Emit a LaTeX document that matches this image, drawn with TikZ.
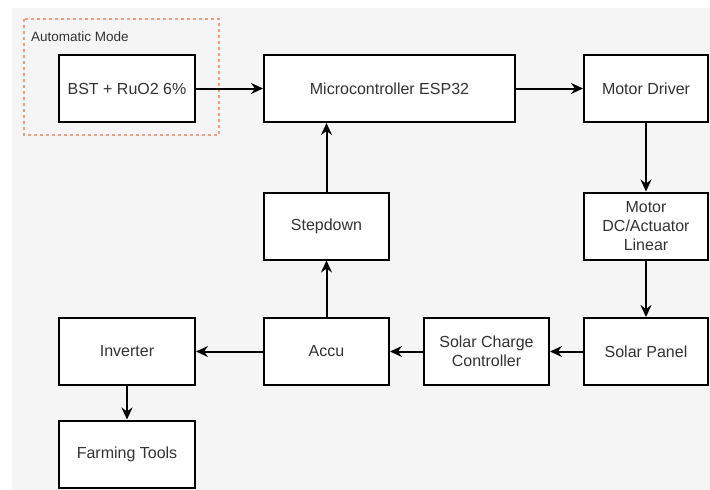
\documentclass[tikz,border=0pt]{standalone}
\usepackage{fontspec}
\setmainfont{Liberation Sans}
\usetikzlibrary{arrows.meta}
\definecolor{bggray}{HTML}{F5F5F5}
\definecolor{txtgray}{HTML}{333333}
\definecolor{dashorange}{RGB}{240,160,125}
\tikzset{
  blockbox/.style={draw=black, fill=white, line width=2pt, minimum height=67pt,
    inner sep=2pt, align=center, text=txtgray,
    font=\fontsize{16}{19}\selectfont},
  flowarrow/.style={line width=2pt, -{Stealth[length=12pt,width=11pt,inset=4pt]}},
}
\begin{document}
\begin{tikzpicture}[x=1pt,y=-1pt]
\useasboundingbox (0,0) rectangle (710,490);
\fill[bggray] (12,8) rectangle (710,490);
% dashed group
\draw[dashorange, line width=1.3pt, dash pattern=on 3pt off 3pt] (24,19) rectangle (219,135);
\node[anchor=west, text=txtgray, font=\fontsize{13.5}{16}\selectfont, inner sep=0pt] (autolbl) at (31,37) {Automatic Mode};
% boxes
\node[blockbox, minimum width=136pt] (bst) at (127,88.5) {BST + RuO2 6\%};
\node[blockbox, minimum width=251pt] (mcu) at (389.5,88.5) {Microcontroller ESP32};
\node[blockbox, minimum width=124pt] (md) at (646,88.5) {Motor Driver};
\node[blockbox, minimum width=124pt] (mdc) at (646,226) {Motor\\DC/Actuator\\Linear};
\node[blockbox, minimum width=124pt] (sp) at (646,351.5) {Solar Panel};
\node[blockbox, minimum width=125pt] (scc) at (486.5,351.5) {Solar Charge\\Controller};
\node[blockbox, minimum width=125pt] (accu) at (326.5,351.5) {Accu};
\node[blockbox, minimum width=136pt] (inv) at (127,351.5) {Inverter};
\node[blockbox, minimum width=136pt] (ft) at (127,454) {Farming Tools};
\node[blockbox, minimum width=125pt] (sd) at (326.5,226) {Stepdown};
% connectors
\draw[flowarrow] (bst) -- (mcu);
\draw[flowarrow] (mcu) -- (md);
\draw[flowarrow] (md) -- (mdc);
\draw[flowarrow] (mdc) -- (sp);
\draw[flowarrow] (sp) -- (scc);
\draw[flowarrow] (scc) -- (accu);
\draw[flowarrow] (accu) -- (inv);
\draw[flowarrow] (inv) -- (ft);
\draw[flowarrow] (accu) -- (sd);
\draw[flowarrow] (sd.north) -- (sd.north |- mcu.south);
\end{tikzpicture}
\end{document}
